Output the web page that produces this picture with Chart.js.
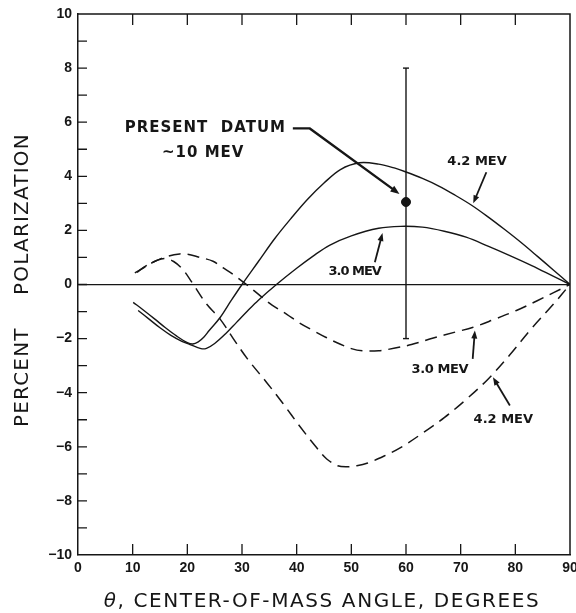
<!DOCTYPE html>
<html>
<head>
<meta charset="utf-8">
<script src="https://cdn.jsdelivr.net/npm/chart.js@4.4.1/dist/chart.umd.min.js"></script>
<style>
  html, body { margin: 0; padding: 0; background: #fff; }
  #wrap { width: 576px; height: 613px; }
</style>
</head>
<body>
<div id="wrap"><canvas id="c" width="576" height="613"></canvas></div>
<script>
// Center-of-mass angle (degrees) and percent polarization for each curve

// 4.2 MeV, solid curve
const solid42Angle = [10.1, 12, 14, 16, 18, 20, 21, 22, 23, 24, 26, 28, 30, 33, 36, 39, 42, 45, 48, 51.5, 55, 58, 60, 63, 66, 69, 72, 75, 78, 81, 84, 87, 90];
const solid42Pol   = [-0.66, -0.95, -1.27, -1.6, -1.9, -2.15, -2.2, -2.12, -1.95, -1.7, -1.22, -0.6, 0, 0.85, 1.7, 2.45, 3.15, 3.75, 4.25, 4.5, 4.45, 4.3, 4.16, 3.92, 3.64, 3.3, 2.93, 2.5, 2.04, 1.56, 1.05, 0.53, 0];

// 3.0 MeV, solid curve
const solid30Angle = [11, 13, 15, 17, 19, 20.5, 22.5, 23.5, 25, 27, 29, 31, 33, 36.3, 40, 43, 46, 50, 55, 59, 63, 67, 71, 75, 79, 83, 87, 90];
const solid30Pol   = [-0.96, -1.28, -1.6, -1.88, -2.1, -2.22, -2.37, -2.36, -2.18, -1.82, -1.4, -0.98, -0.58, 0, 0.6, 1.05, 1.45, 1.8, 2.08, 2.15, 2.12, 1.97, 1.75, 1.42, 1.07, 0.7, 0.3, 0];

// 3.0 MeV, dashed curve
const dashed30Angle = [10.4, 12, 14, 16, 18.6, 20, 22, 24.7, 26.5, 28.4, 30.8, 33.3, 35.5, 38.2, 40.5, 43, 45.5, 47.9, 50, 52, 55, 58, 61, 65, 69, 72.3, 76, 80.2, 84, 87, 90];
const dashed30Pol   = [0.43, 0.62, 0.85, 1.02, 1.13, 1.12, 1.02, 0.86, 0.62, 0.37, 0, -0.41, -0.76, -1.1, -1.42, -1.7, -1.97, -2.2, -2.37, -2.45, -2.45, -2.35, -2.22, -1.98, -1.76, -1.58, -1.3, -0.96, -0.6, -0.3, 0];

// 4.2 MeV, dashed curve
const dashed42Angle = [10.8, 12.5, 14.3, 16, 17.5, 19.2, 21.1, 23.5, 26, 28.4, 31, 34.5, 37.5, 40.6, 43.6, 45.5, 47.5, 49, 51, 53, 56, 59, 63, 67, 71, 75, 79, 83, 87, 90];
const dashed42Pol   = [0.45, 0.7, 0.88, 0.96, 0.85, 0.55, 0, -0.72, -1.28, -2.0, -2.75, -3.62, -4.4, -5.25, -6.02, -6.45, -6.7, -6.74, -6.7, -6.6, -6.34, -6.03, -5.5, -4.92, -4.25, -3.5, -2.6, -1.62, -0.72, 0];

// Measured point (~10 MeV) with its error bar
const datumAngle = [60];
const datumPol = [3.05];
const datumLow = [-2];
const datumHigh = [8];

// Axis ticks
const xTickValues = [0, 10, 20, 30, 40, 50, 60, 70, 80, 90];
const yTickValues = [-10, -8, -6, -4, -2, 0, 2, 4, 6, 8, 10];

const INK = '#161616';
const pairs = (xs, ys) => xs.map((x, i) => ({ x: x, y: ys[i] }));

// Curve labels with pointer arrows, in data units
const curveNotes = [
  { text: '4.2 MEV', at: [73.0, 4.56], from: [74.7, 4.15], to: [72.3, 3.0], spacing: 0 },
  { text: '3.0 MEV', at: [50.6, 0.49], from: [54.3, 0.82], to: [55.7, 1.9], spacing: -1 },
  { text: '3.0 MEV', at: [66.2, -3.14], from: [72.2, -2.75], to: [72.6, -1.7], spacing: -0.4 },
  { text: '4.2 MEV', at: [77.8, -4.99], from: [79.0, -4.47], to: [75.9, -3.43], spacing: 0 }
];

function arrowHead(ctx, x1, y1, x2, y2, len, half) {
  const a = Math.atan2(y2 - y1, x2 - x1);
  ctx.beginPath();
  ctx.moveTo(x2, y2);
  ctx.lineTo(x2 - len * Math.cos(a) + half * Math.sin(a), y2 - len * Math.sin(a) - half * Math.cos(a));
  ctx.lineTo(x2 - len * Math.cos(a) - half * Math.sin(a), y2 - len * Math.sin(a) + half * Math.cos(a));
  ctx.closePath();
  ctx.fill();
}

const framePlugin = {
  id: 'frame',
  afterDraw(chart) {
    const { ctx, chartArea: a, scales: { x, y } } = chart;
    ctx.save();
    ctx.strokeStyle = INK;
    ctx.fillStyle = INK;
    ctx.lineWidth = 1.5;
    // top and right edges of the frame
    ctx.beginPath();
    ctx.moveTo(a.left, a.top); ctx.lineTo(a.right, a.top); ctx.lineTo(a.right, a.bottom);
    ctx.stroke();
    // inward tick marks
    ctx.lineWidth = 1.3;
    ctx.beginPath();
    for (let v = -9; v <= 9; v++) {
      const py = y.getPixelForValue(v);
      ctx.moveTo(a.left, py); ctx.lineTo(a.left + 9, py);
    }
    xTickValues.slice(1, -1).forEach(v => {
      const px = x.getPixelForValue(v);
      ctx.moveTo(px, a.bottom); ctx.lineTo(px, a.bottom - 11);
      ctx.moveTo(px, a.top); ctx.lineTo(px, a.top + 11);
    });
    ctx.stroke();

    // axis titles
    ctx.letterSpacing = '1.2px';
    ctx.font = '20px "DejaVu Sans"';
    ctx.textAlign = 'left';
    ctx.textBaseline = 'alphabetic';
    const tx = a.left - 50;
    [['PERCENT', 427], ['POLARIZATION', 295]].forEach(([t, py]) => {
      ctx.save();
      ctx.translate(tx, py);
      ctx.rotate(-Math.PI / 2);
      ctx.fillText(t, 0, 0);
      ctx.restore();
    });
    ctx.letterSpacing = '1.6px';
    const theta = '\u03B8';
    const rest = ', CENTER-OF-MASS ANGLE, DEGREES';
    ctx.font = 'italic 20px "DejaVu Sans"';
    const w1 = ctx.measureText(theta).width;
    ctx.font = '20px "DejaVu Sans"';
    const w2 = ctx.measureText(rest).width;
    const sx = (a.left + a.right) / 2 - 2 - (w1 + w2) / 2;
    const by = chart.height - 6;
    ctx.font = 'italic 20px "DejaVu Sans"';
    ctx.fillText(theta, sx, by);
    ctx.font = '20px "DejaVu Sans"';
    ctx.fillText(rest, sx + w1, by);

    // curve labels and pointers
    ctx.font = 'bold 13px "DejaVu Sans"';
    ctx.textAlign = 'center';
    ctx.textBaseline = 'middle';
    ctx.lineWidth = 1.8;
    curveNotes.forEach(n => {
      ctx.letterSpacing = n.spacing + 'px';
      ctx.fillText(n.text, x.getPixelForValue(n.at[0]), y.getPixelForValue(n.at[1]));
      const x1 = x.getPixelForValue(n.from[0]), y1 = y.getPixelForValue(n.from[1]);
      const x2 = x.getPixelForValue(n.to[0]), y2 = y.getPixelForValue(n.to[1]);
      const ang = Math.atan2(y2 - y1, x2 - x1);
      ctx.beginPath();
      ctx.moveTo(x1, y1);
      ctx.lineTo(x2 - 5 * Math.cos(ang), y2 - 5 * Math.sin(ang));
      ctx.stroke();
      arrowHead(ctx, x1, y1, x2, y2, 8, 3);
    });

    // label and leader for the measured point
    ctx.letterSpacing = '1px';
    ctx.font = 'bold 15px "DejaVu Sans"';
    ctx.fillText('PRESENT  DATUM', x.getPixelForValue(23.3), y.getPixelForValue(5.77));
    ctx.fillText('~10 MEV', x.getPixelForValue(22.9), y.getPixelForValue(4.84));
    const leader = [[39.3, 5.77], [42.4, 5.77], [58.8, 3.35]].map(p => [x.getPixelForValue(p[0]), y.getPixelForValue(p[1])]);
    ctx.lineWidth = 2.4;
    ctx.beginPath();
    ctx.moveTo(leader[0][0], leader[0][1]);
    ctx.lineTo(leader[1][0], leader[1][1]);
    const [ex1, ey1] = leader[1], [ex2, ey2] = leader[2];
    const la = Math.atan2(ey2 - ey1, ex2 - ex1);
    ctx.lineTo(ex2 - 6 * Math.cos(la), ey2 - 6 * Math.sin(la));
    ctx.stroke();
    arrowHead(ctx, ex1, ey1, ex2, ey2, 9, 3.5);
    ctx.restore();
  }
};

const lineStyle = { fill: false, pointRadius: 0, borderColor: INK, tension: 0.35 };

new Chart(document.getElementById('c'), {
  type: 'line',
  data: {
    datasets: [
      Object.assign({ label: '4.2 MeV', data: pairs(solid42Angle, solid42Pol), borderWidth: 1.4 }, lineStyle),
      Object.assign({ label: '3.0 MeV', data: pairs(solid30Angle, solid30Pol), borderWidth: 1.4 }, lineStyle),
      Object.assign({ label: '3.0 MeV dashed', data: pairs(dashed30Angle, dashed30Pol), borderWidth: 1.5, borderDash: [12, 7] }, lineStyle),
      Object.assign({ label: '4.2 MeV dashed', data: pairs(dashed42Angle, dashed42Pol), borderWidth: 1.5, borderDash: [12, 7] }, lineStyle),
      {
        label: 'error bar',
        data: [{ x: datumAngle[0], y: datumLow[0] }, { x: datumAngle[0], y: datumHigh[0] }],
        borderColor: INK, borderWidth: 1.4, fill: false,
        pointStyle: 'line', pointRadius: 3, pointBorderWidth: 1.4, pointBorderColor: INK
      },
      {
        label: 'present datum',
        data: pairs(datumAngle, datumPol),
        showLine: false, pointRadius: 4.5, pointBackgroundColor: INK, pointBorderColor: INK, pointBorderWidth: 1
      }
    ]
  },
  options: {
    responsive: false,
    animation: false,
    devicePixelRatio: 1,
    layout: { padding: { top: 14, right: 6, left: 0, bottom: 0 } },
    plugins: { legend: { display: false }, tooltip: { enabled: false } },
    scales: {
      x: {
        type: 'linear', min: 0, max: 90,
        afterBuildTicks(s) { s.ticks = xTickValues.map(v => ({ value: v })); },
        afterFit(s) { s.height = 58; s.paddingLeft = 0; s.paddingRight = 0; },
        ticks: { color: INK, padding: 5, maxRotation: 0, autoSkip: false, font: { family: '"Liberation Sans", Arial', size: 14, weight: 'bold' } },
        grid: { display: false, drawTicks: false },
        border: { display: true, color: INK, width: 1.5 }
      },
      y: {
        type: 'linear', min: -10, max: 10,
        afterBuildTicks(s) { s.ticks = yTickValues.map(v => ({ value: v })); },
        afterFit(s) { s.width = 78; s.paddingTop = 0; s.paddingBottom = 0; },
        ticks: {
          color: INK, padding: 6, autoSkip: false,
          font: { family: '"Liberation Sans", Arial', size: 14, weight: 'bold' },
          callback: v => (v < 0 ? '\u2212' + Math.abs(v) : String(v))
        },
        grid: {
          drawTicks: false,
          color: c => (c.tick && c.tick.value === 0 ? INK : 'rgba(0,0,0,0)'),
          lineWidth: 1.3
        },
        border: { display: true, color: INK, width: 1.5 }
      }
    }
  },
  plugins: [framePlugin]
});
</script>
</body>
</html>
